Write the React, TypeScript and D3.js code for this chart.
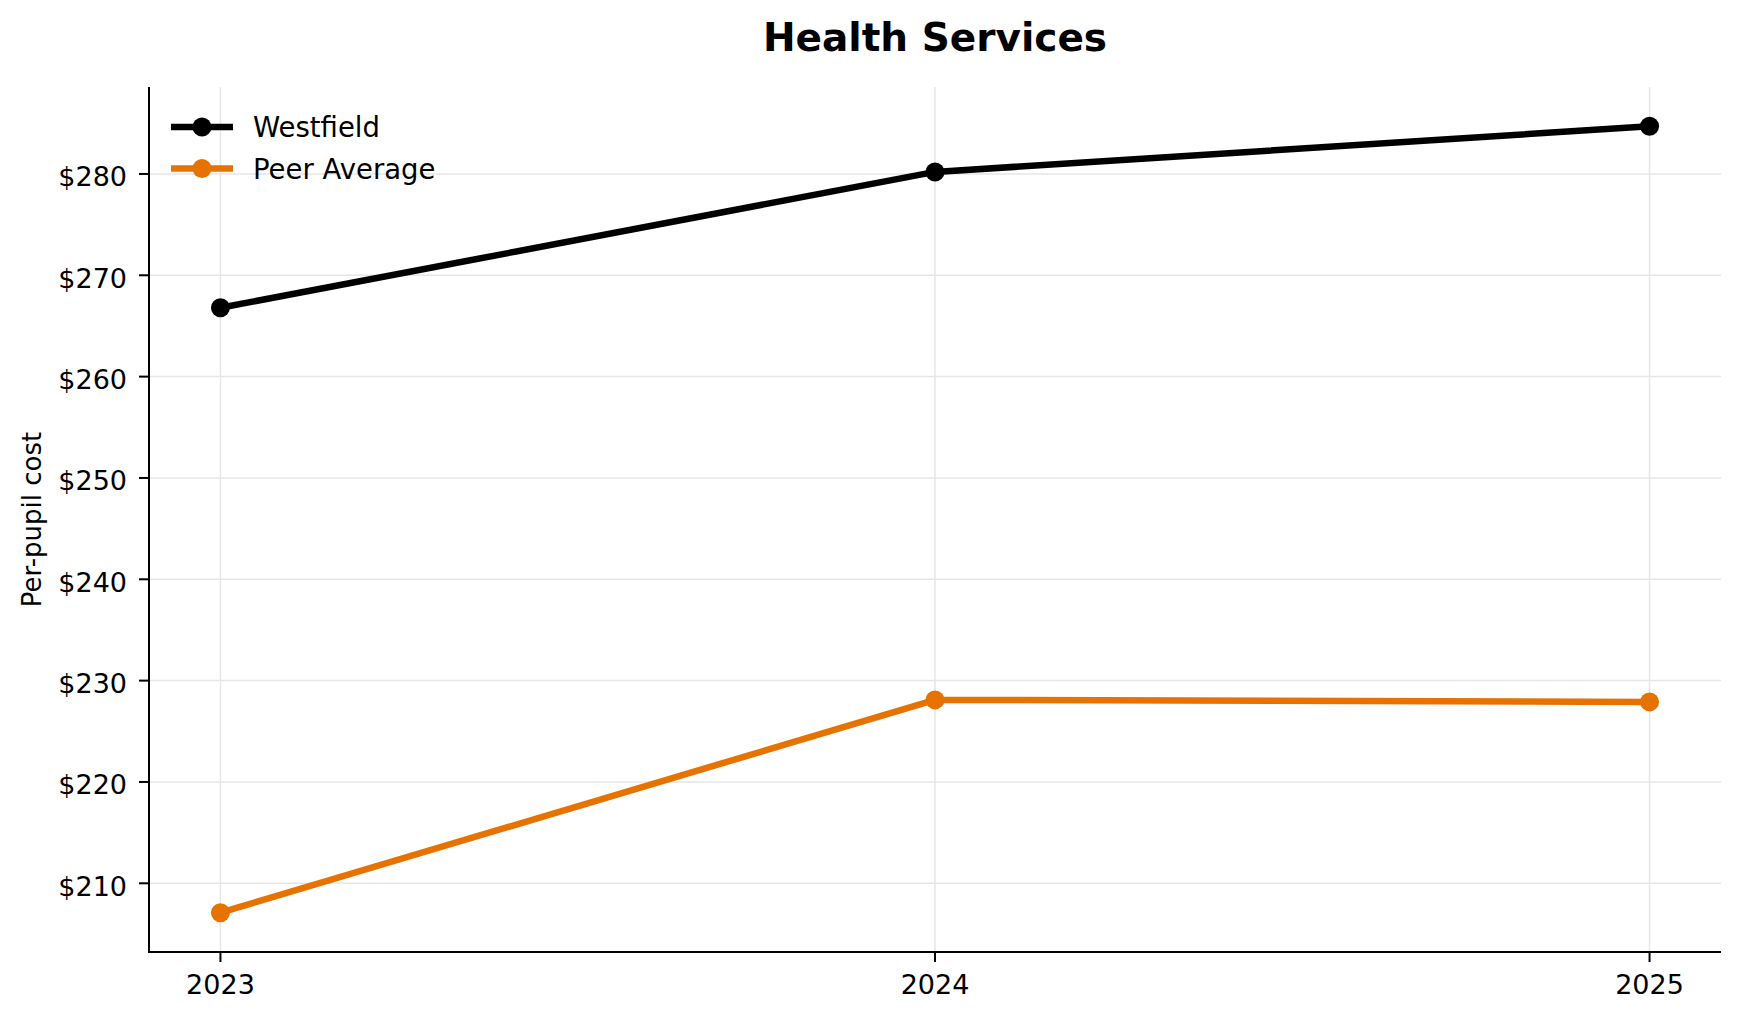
import React from 'react';
import * as d3 from 'd3';

const years = [2023, 2024, 2025];
const westfield = [266.8, 280.2, 284.7];
const peerAverage = [207.1, 228.1, 227.9];
const yTicks = [210, 220, 230, 240, 250, 260, 270, 280];

const seriesList = [
  { name: 'Westfield', values: westfield, color: '#000000' },
  { name: 'Peer Average', values: peerAverage, color: '#e67300' },
];

const width = 1739;
const height = 1019;
const margin = { top: 87, right: 18, bottom: 67, left: 149 };
const font = 'DejaVu Sans, sans-serif';

function padded(lo: number, hi: number) {
  const p = (hi - lo) * 0.05;
  return [lo - p, hi + p];
}

export default function App() {
  const allValues = [...westfield, ...peerAverage];
  const x = d3
    .scaleLinear()
    .domain(padded(d3.min(years)!, d3.max(years)!))
    .range([margin.left, width - margin.right]);
  const y = d3
    .scaleLinear()
    .domain(padded(d3.min(allValues)!, d3.max(allValues)!))
    .range([height - margin.bottom, margin.top]);

  const line = d3
    .line<number>()
    .x((_, i) => x(years[i]))
    .y((d) => y(d));

  const x0 = margin.left;
  const x1 = width - margin.right;
  const y0 = height - margin.bottom;
  const y1 = margin.top;

  return (
    <svg
      width={width}
      height={height}
      style={{ position: 'absolute', left: 0, top: 0, background: '#fff' }}
      fontFamily={font}
    >
      {/* grid */}
      <g stroke="#e6e6e6" strokeWidth={1.5}>
        {yTicks.map((t) => (
          <line key={t} x1={x0} x2={x1} y1={y(t)} y2={y(t)} />
        ))}
        {years.map((yr) => (
          <line key={yr} x1={x(yr)} x2={x(yr)} y1={y1} y2={y0} />
        ))}
      </g>

      {/* lines */}
      {seriesList.map((s) => (
        <g key={s.name}>
          <path
            d={line(s.values) || ''}
            fill="none"
            stroke={s.color}
            strokeWidth={6.5}
            strokeLinejoin="round"
          />
          {s.values.map((v, i) => (
            <circle key={i} cx={x(years[i])} cy={y(v)} r={9.5} fill={s.color} />
          ))}
        </g>
      ))}

      {/* spines */}
      <line x1={x0} x2={x0} y1={y1} y2={y0 + 1} stroke="#000" strokeWidth={2} />
      <line x1={x0 - 1} x2={x1} y1={y0} y2={y0} stroke="#000" strokeWidth={2} />

      {/* y axis */}
      {yTicks.map((t) => (
        <g key={t}>
          <line x1={x0 - 10} x2={x0} y1={y(t)} y2={y(t)} stroke="#000" strokeWidth={2} />
          <text x={x0 - 22} y={y(t) + 12.5} textAnchor="end" fontSize={27} fill="#000">
            {`$${t}`}
          </text>
        </g>
      ))}

      {/* x axis */}
      {years.map((yr) => (
        <g key={yr}>
          <line x1={x(yr)} x2={x(yr)} y1={y0} y2={y0 + 10} stroke="#000" strokeWidth={2} />
          <text x={x(yr)} y={y0 + 42} textAnchor="middle" fontSize={27} fill="#000">
            {yr}
          </text>
        </g>
      ))}

      <text
        transform={`translate(41,${(y0 + y1) / 2}) rotate(-90)`}
        textAnchor="middle"
        fontSize={26}
        fill="#000"
      >
        Per-pupil cost
      </text>

      <text
        x={(x0 + x1) / 2}
        y={51}
        textAnchor="middle"
        fontSize={39}
        fontWeight="bold"
        fill="#000"
      >
        Health Services
      </text>

      {/* legend */}
      {seriesList.map((s, i) => {
        const ly = 127 + i * 41.5;
        return (
          <g key={s.name}>
            <line x1={171} x2={233} y1={ly} y2={ly} stroke={s.color} strokeWidth={6.5} />
            <circle cx={202} cy={ly} r={9.5} fill={s.color} />
            <text x={253} y={ly + 10} fontSize={27.5} fill="#000">
              {s.name}
            </text>
          </g>
        );
      })}
    </svg>
  );
}
